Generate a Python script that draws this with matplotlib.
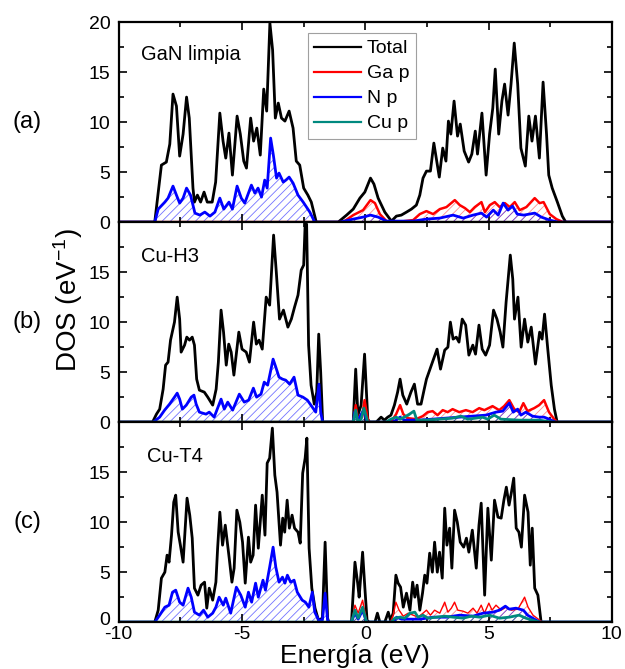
import matplotlib
matplotlib.use("Agg")
import matplotlib.pyplot as plt
from matplotlib.lines import Line2D
from matplotlib.ticker import MultipleLocator
from matplotlib.transforms import ScaledTranslation

plt.rcParams['font.family'] = ['Liberation Sans', 'DejaVu Sans']
plt.rcParams['mathtext.default'] = 'regular'
plt.rcParams['axes.unicode_minus'] = False
plt.rcParams['hatch.linewidth'] = 0.6

# ---- data (energy in eV, DOS in 1/eV) ----
# (a) GaN limpia
a_tot_e = [-10, -8.54, -8.27, -8.07, -7.93, -7.8, -7.66, -7.53, -7.39, -7.25, -7.14, -6.99, -6.93, -6.81, -6.68,
           -6.54, -6.41, -6.21, -6.07, -5.9, -5.77, -5.66, -5.53, -5.39, -5.2, -5.07, -4.93, -4.82, -4.65, -4.53,
           -4.4, -4.26, -4.12, -4.0, -3.87, -3.76, -3.65, -3.53, -3.4, -3.26, -3.09, -2.93, -2.8, -2.66, -2.5,
           -2.33, -2.19, -1.99, -1.1, -0.76, -0.49, -0.22, -0.02, 0.21, 0.35, 0.52, 0.79, 1.06, 1.26, 1.46, 1.67,
           1.87, 2.07, 2.21, 2.34, 2.48, 2.64, 2.78, 3.0, 3.14, 3.27, 3.37, 3.47, 3.6, 3.74, 3.85, 4.01, 4.19,
           4.32, 4.46, 4.55, 4.73, 4.9, 5.04, 5.17, 5.27, 5.41, 5.54, 5.65, 5.79, 5.91, 6.04, 6.18, 6.31, 6.49,
           6.63, 6.76, 6.9, 7.06, 7.21, 7.35, 7.44, 7.58, 7.79, 7.99, 8.13, 10]
a_tot_v = [0, 0, 5.7, 6.0, 7.8, 12.8, 11.6, 6.6, 8.8, 12.5, 10.4, 3.4, 2.0, 2.7, 2.0,
           3.0, 2.0, 2.0, 4.0, 10.9, 8.1, 6.4, 8.9, 4.7, 10.6, 8.8, 6.1, 5.4, 10.4, 8.1,
           9.4, 6.7, 13.3, 11.1, 19.9, 17.2, 10.4, 11.9, 10.4, 10.1, 11.1, 9.4, 6.1, 5.7, 3.4,
           2.7, 2.0, 0, 0, 0.7, 1.3, 2.4, 3.0, 4.4, 3.8, 2.4, 1.0, 0.1, 0.6, 0.7, 1.0,
           1.3, 1.7, 2.7, 4.4, 5.1, 5.1, 7.9, 4.5, 7.4, 6.1, 10.1, 8.8, 12.1, 8.6, 9.8, 7.1, 6.0,
           6.8, 9.1, 6.8, 10.9, 4.7, 8.8, 11.4, 15.3, 8.8, 12.1, 13.8, 10.7, 13.8, 17.9, 13.8, 7.4, 5.6,
           10.6, 8.1, 10.6, 6.4, 14.0, 8.8, 4.7, 3.4, 2.0, 0.6, 0, 0]
a_ga_e = [-10, -0.9, -0.49, -0.09, 0.21, 0.39, 0.59, 0.86, 1.26, 1.94, 2.21, 2.48, 2.75, 3.02, 3.29, 3.63, 3.83,
          4.04, 4.24, 4.44, 4.71, 4.85, 5.05, 5.25, 5.45, 5.66, 5.86, 6.06, 6.26, 6.53, 6.87, 7.07, 7.23, 7.48,
          7.75, 8.02, 10]
a_ga_v = [0, 0, 0.7, 1.2, 2.2, 1.9, 0.8, 0.1, 0, 0.2, 0.8, 1.1, 0.8, 1.3, 1.5, 2.2, 1.7,
          1.4, 1.0, 1.5, 2.0, 1.0, 1.7, 2.0, 1.5, 1.9, 1.5, 2.0, 1.2, 1.5, 2.4, 1.9, 2.0, 0.8,
          0.3, 0, 0]
a_n_e = [-10, -8.54, -8.4, -8.13, -8.0, -7.8, -7.66, -7.53, -7.39, -7.25, -7.09, -6.91, -6.71, -6.51, -6.3, -6.1,
         -5.9, -5.74, -5.53, -5.39, -5.2, -5.03, -4.89, -4.62, -4.48, -4.35, -4.21, -4.08, -3.98, -3.84, -3.73,
         -3.6, -3.5, -3.33, -3.22, -3.09, -2.93, -2.73, -2.52, -2.25, -2.05, -1.03, -0.49, -0.09, 0.21, 0.52,
         0.86, 1.94, 2.48, 3.02, 3.56, 3.97, 4.37, 4.71, 4.92, 5.19, 5.39, 5.59, 5.79, 5.97, 6.16, 6.43, 6.87,
         7.14, 7.48, 7.82, 10]
a_n_v = [0, 0, 1.3, 2.0, 2.4, 3.6, 2.7, 1.9, 2.4, 3.4, 2.7, 0.9, 0.7, 1.0, 0.6, 1.0,
         2.4, 1.3, 2.0, 1.3, 3.6, 2.4, 1.9, 3.7, 2.9, 3.4, 2.5, 4.2, 3.4, 8.4, 6.7,
         4.4, 4.9, 4.0, 4.2, 4.5, 3.9, 2.7, 2.0, 1.0, 0, 0, 0.3, 0.5, 0.7, 0.5,
         0.1, 0.1, 0.3, 0.4, 0.7, 0.4, 0.7, 0.9, 0.5, 1.2, 0.7, 1.9, 1.2, 1.6, 0.8, 0.7, 0.9,
         0.5, 0.2, 0, 0]

# (b) Cu-H3
b_tot_e = [-10, -8.63, -8.47, -8.34, -8.2, -8.1, -8.0, -7.9, -7.74, -7.63, -7.53, -7.47, -7.33, -7.24, -7.13,
           -7.02, -6.93, -6.84, -6.73, -6.53, -6.39, -6.19, -6.05, -5.96, -5.85, -5.75, -5.64, -5.54, -5.44,
           -5.33, -5.13, -5.0, -4.83, -4.7, -4.53, -4.42, -4.31, -4.18, -4.02, -3.88, -3.72, -3.61, -3.48,
           -3.32, -3.14, -3.0, -2.87, -2.73, -2.6, -2.5, -2.44, -2.38, -2.3, -2.2, -2.07, -1.97, -1.89, -1.81,
           -1.73, -0.49, -0.39, -0.3, -0.17, -0.03, 0.1, 0.17, 0.44, 0.64, 0.77, 0.91, 1.04, 1.18, 1.31, 1.41,
           1.52, 1.68, 1.85, 1.99, 2.12, 2.26, 2.39, 2.48, 2.68, 2.91, 3.05, 3.22, 3.35, 3.45, 3.56, 3.69, 3.8,
           3.93, 4.07, 4.2, 4.36, 4.47, 4.61, 4.74, 4.88, 5.04, 5.2, 5.34, 5.47, 5.58, 5.71, 5.88, 5.98, 6.05,
           6.19, 6.32, 6.46, 6.59, 6.73, 6.9, 7.07, 7.17, 7.27, 7.4, 7.54, 7.67, 7.78, 10]
b_tot_v = [0, 0, 0.8, 1.3, 3.3, 5.7, 6.0, 8.2, 10.0, 12.5, 10.3, 7.0, 7.7, 8.5, 8.2,
           8.5, 7.7, 4.3, 3.2, 3.0, 2.5, 1.7, 3.3, 6.0, 11.2, 9.0, 5.7, 7.8, 7.0,
           4.7, 9.0, 7.3, 7.0, 6.0, 10.0, 7.8, 8.2, 7.3, 12.5, 11.7, 18.7, 15.0, 10.3,
           11.2, 9.5, 10.3, 11.5, 12.7, 15.2, 15.7, 19.8, 19.8, 7.7, 3.7, 1.8, 3.0, 8.8, 5.0,
           0, 0, 5.3, 0.7, 1.7, 6.8, 0.3, 0, 0, 0.5, 0.2, 0.5, 0.7, 1.7, 3.0, 4.3,
           2.7, 1.8, 3.0, 3.8, 1.8, 1.8, 3.3, 4.3, 5.7, 7.3, 5.3, 7.2, 7.5, 10.0, 8.3, 8.5, 8.0,
           10.3, 9.7, 6.7, 7.7, 6.8, 9.7, 7.3, 6.7, 7.7, 11.2, 10.3, 9.0, 7.5, 12.0, 16.7, 14.3, 10.3,
           12.5, 7.5, 10.3, 8.0, 9.5, 5.8, 9.0, 8.3, 10.8, 7.3, 3.7, 1.3, 0, 0]
b_ga_e = [-10, -0.49, -0.39, -0.3, -0.13, -0.03, 0.1, 0.17, 1.04, 1.25, 1.41, 1.54, 1.72, 2.06, 2.33, 2.53, 2.73,
          2.93, 3.14, 3.34, 3.54, 3.81, 4.08, 4.35, 4.62, 4.83, 5.16, 5.43, 5.63, 5.84, 6.04, 6.24, 6.41, 6.58,
          6.85, 7.05, 7.25, 7.45, 7.66, 7.79, 10]
b_ga_v = [0, 0, 1.7, 0.3, 0.5, 2.2, 0.3, 0, 0, 0.8, 1.7, 0.8, 0.4, 0.3, 0.6, 1.0, 1.1,
          0.7, 1.2, 1.0, 1.3, 1.0, 1.2, 1.0, 1.4, 1.2, 1.6, 1.2, 1.6, 2.2, 1.3, 1.0, 1.9, 1.1,
          1.4, 1.7, 2.2, 1.0, 0.3, 0, 0]
b_n_e = [-10, -8.6, -8.34, -8.14, -7.94, -7.74, -7.63, -7.53, -7.42, -7.26, -7.06, -6.95, -6.86, -6.73, -6.46,
         -6.33, -6.13, -5.85, -5.72, -5.58, -5.38, -5.11, -4.91, -4.73, -4.54, -4.41, -4.23, -4.1, -3.96, -3.74,
         -3.63, -3.5, -3.36, -3.23, -3.07, -2.89, -2.73, -2.53, -2.35, -2.15, -2.01, -1.88, -1.81, -1.73, -0.49,
         -0.43, -0.3, -0.07, 0.08, 1.1, 1.25, 1.41, 1.58, 2.2, 2.73, 3.27, 3.81, 4.35, 4.89, 5.3, 5.57, 5.84,
         6.0, 6.18, 6.31, 6.51, 6.78, 7.05, 7.25, 7.45, 7.72, 10]
b_n_v = [0, 0, 0.5, 1.2, 1.8, 2.5, 2.9, 2.3, 1.3, 1.7, 2.5, 2.7, 1.8, 1.0, 0.8,
         1.0, 0.5, 2.3, 1.3, 2.0, 1.2, 2.8, 2.0, 2.2, 3.4, 2.5, 2.8, 4.0, 3.7, 6.3,
         5.5, 4.5, 4.3, 4.2, 3.8, 4.5, 2.7, 2.5, 2.2, 1.5, 1.0, 3.8, 1.0, 0, 0,
         1.0, 0.2, 1.2, 0, 0, 0.2, 0.5, 0.2, 0.2, 0.3, 0.4, 0.5, 0.6, 0.7, 1.0, 1.1, 1.9,
         1.0, 1.3, 0.7, 1.0, 0.6, 0.5, 0.5, 0.3, 0, 0]
b_cu_e = [-10, -0.49, -0.39, -0.3, -0.17, -0.06, 0.1, 0.84, 1.04, 1.25, 1.41, 1.58, 1.79, 1.97, 2.09, 2.46, 3.0,
          3.54, 3.88, 4.15, 4.48, 4.75, 4.96, 5.23, 5.5, 6.24, 7.05, 7.59, 10]
b_cu_v = [0, 0, 1.2, 0, 0.3, 1.4, 0, 0, 0.3, 0.5, 0.3, 0.5, 0.8, 1.1, 0.2, 0.2, 0.3,
          0.4, 0.6, 0.3, 0.4, 0.5, 0.3, 0.7, 0.3, 0.2, 0.2, 0, 0]

# (c) Cu-T4
c_tot_e = [-10, -8.54, -8.4, -8.27, -8.13, -8.04, -7.96, -7.86, -7.77, -7.69, -7.59, -7.5, -7.39, -7.23, -7.12,
           -7.02, -6.93, -6.79, -6.66, -6.52, -6.43, -6.33, -6.19, -6.06, -5.99, -5.9, -5.79, -5.68, -5.52,
           -5.41, -5.32, -5.21, -5.09, -4.98, -4.87, -4.74, -4.65, -4.55, -4.45, -4.34, -4.18, -4.07, -3.98,
           -3.88, -3.77, -3.67, -3.58, -3.44, -3.35, -3.27, -3.17, -3.08, -2.97, -2.87, -2.73, -2.64, -2.54,
           -2.44, -2.37, -2.28, -2.17, -2.04, -1.9, -1.74, -1.63, -1.53, -1.48, -0.56, -0.42, -0.31, -0.25,
           -0.11, -0.02, 0.07, 0.15, 0.39, 0.49, 0.59, 0.79, 0.93, 1.02, 1.13, 1.24, 1.33, 1.43, 1.54, 1.67,
           1.81, 1.92, 2.01, 2.1, 2.21, 2.32, 2.41, 2.5, 2.61, 2.72, 2.81, 2.92, 3.01, 3.12, 3.22, 3.31, 3.42,
           3.51, 3.62, 3.73, 3.85, 3.99, 4.1, 4.2, 4.34, 4.5, 4.61, 4.7, 4.84, 4.97, 5.11, 5.24, 5.38, 5.51,
           5.62, 5.72, 5.83, 5.92, 6.02, 6.12, 6.23, 6.33, 6.46, 6.6, 6.69, 6.77, 6.87, 7.0, 7.13, 10]
c_tot_v = [0, 0, 1.2, 4.4, 5.0, 6.7, 6.0, 8.7, 12.0, 12.7, 9.0, 7.7, 6.0, 12.4, 10.7,
           8.4, 3.4, 2.7, 3.7, 4.0, 1.4, 3.4, 2.2, 4.0, 7.4, 11.0, 7.7, 9.7, 6.4,
           4.0, 5.4, 11.2, 10.0, 8.0, 3.9, 8.5, 6.0, 6.7, 11.7, 7.4, 12.7, 8.7, 15.9,
           16.4, 19.4, 14.7, 13.0, 7.7, 10.4, 9.0, 12.2, 9.4, 10.7, 9.4, 9.0, 7.9, 14.9,
           16.4, 18.4, 7.4, 3.4, 1.4, 0.2, 0.4, 8.0, 0.4, 0, 0, 6.0, 3.9, 2.5,
           7.0, 3.5, 0.2, 0, 0, 0.9, 0, 0, 1.0, 0.2, 0.9, 4.7, 3.9, 3.5, 1.5, 2.9,
           1.2, 4.0, 2.5, 3.7, 1.2, 2.9, 4.7, 3.9, 6.9, 5.0, 8.0, 5.0, 7.0, 4.4, 11.4, 7.7, 9.4,
           5.4, 11.2, 10.0, 8.0, 7.5, 8.4, 7.0, 9.2, 5.4, 9.7, 11.9, 2.7, 11.4, 6.2, 12.2, 10.5, 10.4,
           12.2, 13.5, 11.7, 12.9, 14.4, 9.4, 9.0, 7.5, 12.7, 11.0, 5.7, 9.4, 3.4, 2.7, 0, 0]
c_ga_e = [-10, -0.56, -0.42, -0.29, -0.11, 0.05, 0.12, 1.02, 1.13, 1.24, 1.37, 1.54, 1.74, 1.94, 2.14, 2.34, 2.48,
          2.64, 2.81, 3.02, 3.22, 3.35, 3.49, 3.62, 3.75, 3.96, 4.16, 4.37, 4.53, 4.7, 4.83, 5.01, 5.14, 5.3,
          5.51, 5.71, 5.92, 6.19, 6.46, 6.6, 6.8, 7.07, 7.2, 10]
c_ga_v = [0, 0, 1.7, 0.9, 2.2, 0.2, 0, 0, 0.7, 2.0, 1.2, 0.6, 0.9, 0.7, 0.5, 0.9, 1.2,
          0.7, 1.2, 0.9, 2.0, 1.0, 1.4, 2.0, 1.2, 1.1, 0.9, 1.4, 0.9, 1.7, 0.9, 1.9, 1.2, 1.7,
          1.2, 1.5, 1.2, 1.3, 2.5, 1.5, 0.7, 0.2, 0, 0]
c_n_e = [-10, -8.54, -8.34, -8.13, -7.96, -7.82, -7.69, -7.53, -7.39, -7.19, -7.06, -6.93, -6.73, -6.56, -6.39,
         -6.19, -6.06, -5.93, -5.76, -5.66, -5.46, -5.23, -5.05, -4.87, -4.74, -4.61, -4.45, -4.34, -4.15, -4.05,
         -3.88, -3.74, -3.63, -3.5, -3.36, -3.26, -3.16, -3.03, -2.89, -2.76, -2.56, -2.43, -2.29, -2.15, -2.05,
         -1.89, -1.74, -1.63, -1.53, -1.48, -0.56, -0.49, -0.42, -0.29, -0.11, 0.05, 1.13, 1.27, 1.47, 2.21,
         2.75, 3.29, 3.83, 4.37, 4.77, 5.17, 5.44, 5.68, 5.84, 6.11, 6.41, 6.58, 6.79, 7.07, 10]
c_n_v = [0, 0, 0.7, 1.5, 1.7, 3.0, 3.2, 2.0, 1.7, 3.4, 2.5, 1.0, 0.7, 1.2, 0.5,
         0.9, 1.5, 2.5, 1.7, 2.4, 0.9, 3.5, 2.7, 1.5, 3.0, 2.0, 3.9, 2.5, 4.2, 3.2,
         5.5, 7.5, 5.5, 4.0, 4.5, 3.9, 4.7, 4.0, 4.2, 3.0, 2.2, 2.0, 1.5, 3.0, 1.0,
         0.2, 0.2, 2.9, 0.2, 0, 0, 0.5, 0.9, 0.3, 1.2, 0, 0, 0.5, 0.3, 0.3,
         0.5, 0.5, 0.7, 0.6, 0.9, 1.0, 1.2, 1.6, 1.3, 1.4, 1.2, 0.7, 0.4, 0, 0]
c_cu_e = [-10, -0.56, -0.42, -0.29, -0.11, 0.05, 1.06, 1.19, 1.4, 1.6, 1.81, 2.01, 2.14, 2.34, 2.54, 2.88, 3.22,
          3.56, 3.97, 4.3, 4.64, 5.04, 5.44, 5.84, 6.24, 6.51, 6.91, 7.11, 10]
c_cu_v = [0, 0, 1.2, 0.4, 1.5, 0, 0, 0.4, 0.5, 0.4, 0.9, 1.0, 0.5, 0.7, 0.4, 0.5, 0.6,
          0.5, 0.4, 0.6, 0.5, 0.7, 0.4, 0.5, 0.7, 0.4, 0.1, 0, 0]

names = ['Total', 'Ga p', 'N p', 'Cu p']
colors = ['black', 'red', 'blue', '#00897f']
hatch_col = ['none', (1, 0, 0, 0.45), (0, 0, 1, 0.55), (0, 0.54, 0.5, 0.55)]

panels = [
    ('GaN limpia', '(a)', [(a_tot_e, a_tot_v), (a_ga_e, a_ga_v), (a_n_e, a_n_v), None], [2.0, 1.8, 2.0, 1.8]),
    ('Cu-H3', '(b)', [(b_tot_e, b_tot_v), (b_ga_e, b_ga_v), (b_n_e, b_n_v), (b_cu_e, b_cu_v)], [2.0, 1.8, 2.0, 2.0]),
    ('Cu-T4', '(c)', [(c_tot_e, c_tot_v), (c_ga_e, c_ga_v), (c_n_e, c_n_v), (c_cu_e, c_cu_v)], [2.0, 1.0, 2.0, 2.0]),
]

fig, axes = plt.subplots(3, 1, figsize=(6.25, 6.69), dpi=100, sharex=True)
fig.subplots_adjust(left=0.19, right=0.979, top=0.967, bottom=0.07, hspace=0)

for i, (ax, (title, tag, series, lws)) in enumerate(zip(axes, panels)):
    for k, s in enumerate(series):
        if s is None:
            continue
        e, v = s
        if k > 0:
            ax.fill_between(e, 0, v, facecolor='none', edgecolor=hatch_col[k], hatch='////', linewidth=0)
        ax.plot(e, v, color=colors[k], lw=lws[k], solid_joinstyle='round')
    ax.set_xlim(-10, 10)
    ax.set_ylim(0, 20)
    ax.set_yticks([0, 5, 10, 15, 20] if i == 0 else [0, 5, 10, 15])
    ax.yaxis.set_minor_locator(MultipleLocator(2.5))
    ax.xaxis.set_major_locator(MultipleLocator(5))
    ax.xaxis.set_minor_locator(MultipleLocator(2.5))
    ax.tick_params(which='both', direction='in', top=True, right=True, width=1.2, labelsize=14)
    ax.tick_params(which='major', length=6)
    ax.tick_params(which='minor', length=3.5)
    ax.tick_params(axis='y', pad=6)
    for sp in ax.spines.values():
        sp.set_linewidth(1.6)
    ax.text(0.045 if i < 2 else 0.058, 0.84 if i == 0 else 0.83, title, transform=ax.transAxes,
            fontsize=14.5, va='center', ha='left')
    fig.text(27 / 625, 1 - (122 + 200 * i) / 669, tag, fontsize=17, ha='center', va='center')

axes[2].tick_params(axis='x', pad=3)
# nudge the bottom "0" up a little so it clears the "-10"
lab0 = axes[2].get_yticklabels()[0]
lab0.set_transform(lab0.get_transform() + ScaledTranslation(0, 3 / 72, fig.dpi_scale_trans))

handles = [Line2D([], [], color=colors[k], lw=1.6) for k in range(4)]
leg = axes[0].legend(handles, names, loc='upper left', bbox_to_anchor=(0.383, 0.945), fontsize=14,
                     frameon=True, fancybox=False, edgecolor='#888888', handlelength=2.4,
                     handletextpad=0.3, borderpad=0.35, labelspacing=0.38, borderaxespad=0)
leg.get_frame().set_linewidth(0.8)

fig.text(68 / 625, 1 - 300 / 669, 'DOS (eV$^{-1}$)', rotation=90, fontsize=20, ha='center', va='center')
fig.text(355 / 625, 0.002, 'Energía (eV)', fontsize=19, ha='center', va='bottom')

fig.savefig('out.png', dpi=100)
